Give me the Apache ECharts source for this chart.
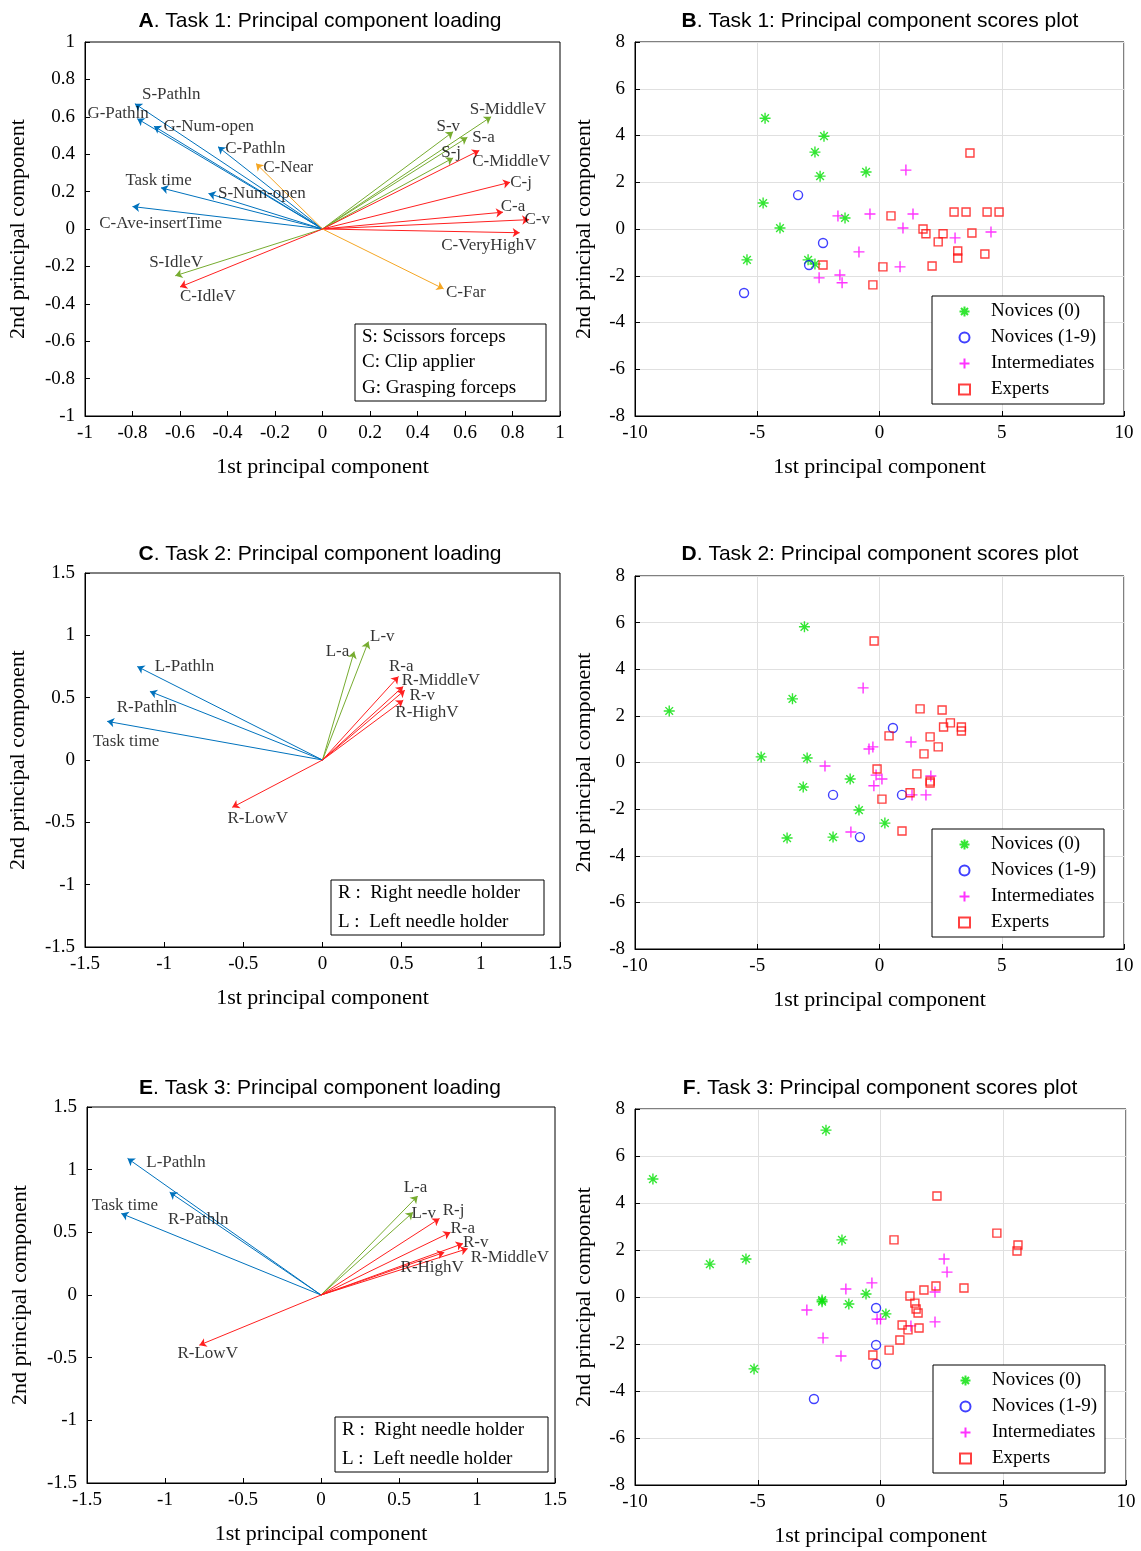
<!DOCTYPE html>
<html>
<head>
<meta charset="utf-8">
<script src="https://cdn.jsdelivr.net/npm/echarts@6/dist/echarts.min.js"></script>
<style>html,body{margin:0;padding:0;background:#fff}#main{width:1141px;height:1551px}</style>
</head>
<body>
<div id="main"></div>
<script>
// loading arrows: name, tip x, tip y, colour group, label x, label y
var aNames = ['S-Pathln','G-Pathln','G-Num-open','C-Pathln','C-Near','Task time','S-Num-open','C-Ave-insertTime','S-IdleV','C-IdleV','C-Far','S-MiddleV','S-v','S-a','S-j','C-MiddleV','C-j','C-a','C-v','C-VeryHighV'];
var aX = [-0.79,-0.78,-0.71,-0.44,-0.28,-0.68,-0.48,-0.80,-0.62,-0.60,0.51,0.71,0.55,0.61,0.55,0.66,0.79,0.76,0.87,0.83];
var aY = [0.67,0.59,0.55,0.44,0.35,0.22,0.19,0.12,-0.25,-0.31,-0.32,0.60,0.52,0.49,0.38,0.42,0.25,0.09,0.05,-0.02];
var aGrp = ['b','b','b','b','o','b','b','b','g','r','o','g','g','g','g','r','r','r','r','r'];
var aLabX = [-0.76,-0.99,-0.67,-0.41,-0.25,-0.83,-0.44,-0.94,-0.73,-0.60,0.52,0.62,0.48,0.63,0.50,0.63,0.79,0.75,0.85,0.50];
var aLabY = [0.72,0.62,0.55,0.43,0.33,0.26,0.19,0.03,-0.18,-0.36,-0.34,0.64,0.55,0.49,0.41,0.36,0.25,0.12,0.05,-0.09];

var cNames = ['L-Pathln','R-Pathln','Task time','L-a','L-v','R-a','R-MiddleV','R-v','R-HighV','R-LowV'];
var cX = [-1.17,-1.09,-1.36,0.20,0.29,0.48,0.51,0.52,0.51,-0.57];
var cY = [0.75,0.55,0.31,0.87,0.95,0.67,0.59,0.56,0.48,-0.38];
var cGrp = ['b','b','b','g','g','r','r','r','r','r'];
var cLabX = [-1.06,-1.30,-1.45,0.02,0.30,0.42,0.50,0.55,0.46,-0.60];
var cLabY = [0.75,0.42,0.15,0.87,0.99,0.75,0.64,0.52,0.38,-0.47];

var eNames = ['L-Pathln','R-Pathln','Task time','L-a','L-v','R-j','R-a','R-v','R-MiddleV','R-HighV','R-LowV'];
var eX = [-1.24,-0.97,-1.28,0.62,0.59,0.76,0.83,0.91,0.94,0.79,-0.78];
var eY = [1.09,0.82,0.65,0.79,0.66,0.61,0.50,0.41,0.37,0.34,-0.40];
var eGrp = ['b','b','b','g','g','r','r','r','r','r','r'];
var eLabX = [-1.12,-0.98,-1.47,0.53,0.58,0.78,0.83,0.91,0.96,0.51,-0.92];
var eLabY = [1.06,0.60,0.71,0.86,0.65,0.67,0.53,0.42,0.30,0.22,-0.47];

// scores
var groupNames = ['Novices (0)','Novices (1-9)','Intermediates','Experts'];
var bNov0 = [[-4.68,4.74],[-2.27,3.97],[-2.64,3.29],[-2.43,2.26],[-0.55,2.44],[-4.76,1.11],[-4.07,0.04],[-1.41,0.47],[-5.42,-1.32],[-2.92,-1.32],[-2.64,-1.5]];
var bNov19 = [[-3.33,1.45],[-2.31,-0.6],[-2.88,-1.54],[-5.54,-2.74]];
var bInter = [[1.08,2.52],[-1.7,0.56],[-0.39,0.64],[1.37,0.64],[0.96,0.04],[-0.84,-0.98],[-2.47,-2.09],[-1.62,-1.97],[-1.53,-2.3],[0.84,-1.62],[3.09,-0.38],[4.56,-0.13]];
var bExp = [[3.7,3.25],[0.47,0.56],[-2.31,-1.54],[-0.27,-2.39],[0.14,-1.62],[1.78,0.0],[1.9,-0.2],[2.6,-0.2],[2.4,-0.55],[2.15,-1.58],[3.05,0.73],[3.54,0.73],[4.4,0.73],[4.89,0.73],[3.78,-0.17],[3.2,-0.94],[3.2,-1.24],[4.31,-1.07]];

var dNov0 = [[-3.07,5.82],[-3.56,2.73],[-8.6,2.21],[-4.84,0.24],[-2.96,0.19],[-3.12,-1.05],[-1.2,-0.71],[-0.84,-2.04],[0.22,-2.6],[-3.78,-3.24],[-1.9,-3.2]];
var dNov19 = [[0.55,1.48],[-1.9,-1.39],[0.92,-1.39],[-0.8,-3.2]];
var dInter = [[-0.67,3.2],[-0.43,0.58],[-0.27,0.67],[-2.23,-0.15],[-0.14,-0.54],[0.1,-0.71],[-0.23,-1.0],[1.29,0.88],[2.1,-0.58],[1.33,-1.39],[1.9,-1.39],[-1.17,-2.98]];
var dExp = [[-0.22,5.21],[1.66,2.3],[2.56,2.25],[2.9,1.7],[3.35,1.52],[3.35,1.35],[2.62,1.52],[0.39,1.14],[2.07,1.1],[2.4,0.67],[1.82,0.37],[-0.1,-0.28],[1.53,-0.49],[2.07,-0.8],[2.07,-0.88],[1.25,-1.3],[0.1,-1.57],[0.92,-2.94]];

var fNov0 = [[-2.22,7.1],[-9.27,5.02],[-5.48,1.62],[-6.95,1.4],[-1.57,2.43],[-2.38,-0.13],[-2.38,-0.2],[-1.29,-0.3],[-0.59,0.13],[0.22,-0.72],[-5.15,-3.06]];
var fNov19 = [[-0.18,-0.47],[-0.18,-2.04],[-0.18,-2.85],[-2.71,-4.34]];
var fInter = [[2.59,1.62],[2.71,1.06],[-0.35,0.6],[-1.41,0.34],[-3.0,-0.55],[-0.14,-0.94],[0,-0.94],[2.22,0.21],[2.22,-1.06],[1.24,-1.23],[-2.34,-1.74],[-1.61,-2.51]];
var fExp = [[2.3,4.3],[0.55,2.43],[4.74,2.72],[5.6,2.21],[5.56,1.96],[1.77,0.3],[2.26,0.47],[3.4,0.38],[1.2,0.04],[1.4,-0.26],[1.45,-0.51],[1.53,-0.68],[0.88,-1.19],[1.12,-1.4],[1.57,-1.32],[0.79,-1.83],[0.35,-2.26],[-0.31,-2.47]];

var SERIF = 'Liberation Serif';
var SANS = 'Liberation Sans';
var arrowCol = {b:'#0072BD', g:'#77AC30', r:'#FF2020', o:'#F5A623'};

var grids = [
  {left:85, top:42, width:475, height:374},
  {left:635, top:42, width:489, height:374},
  {left:85, top:573, width:475, height:374},
  {left:635, top:576, width:489, height:373},
  {left:87, top:1107, width:468, height:376},
  {left:635, top:1109, width:491, height:376}
];
grids.forEach(function(g){ g.show = true; g.borderColor = '#000'; g.borderWidth = 1; g.backgroundColor = 'transparent'; });

function fmt(v){ return String(Math.round(v*10)/10); }
function axisX(i, min, max, step, grid){
  return {gridIndex:i, type:'value', min:min, max:max, interval:step,
    name:'1st principal component', nameLocation:'middle', nameGap:40,
    nameTextStyle:{fontFamily:SERIF, fontSize:22, color:'#000'},
    axisLine:{show:true, onZero:false, lineStyle:{color:'#000'}},
    axisTick:{inside:true, length:5, lineStyle:{color:'#000'}},
    axisLabel:{fontFamily:SERIF, fontSize:19, color:'#000', margin:8, formatter:fmt},
    splitLine:{show:grid, lineStyle:{color:'#e0e0e0'}}};
}
function axisY(i, min, max, step, grid, gap){
  return {gridIndex:i, type:'value', min:min, max:max, interval:step,
    name:'2nd principal component', nameLocation:'middle', nameGap:gap, nameRotate:90,
    nameTextStyle:{fontFamily:SERIF, fontSize:22, color:'#000'},
    axisLine:{show:true, onZero:false, lineStyle:{color:'#000'}},
    axisTick:{inside:true, length:5, lineStyle:{color:'#000'}},
    axisLabel:{fontFamily:SERIF, fontSize:19, color:'#000', margin:10, formatter:fmt},
    splitLine:{show:grid, lineStyle:{color:'#e0e0e0'}}};
}

var xAxes = [axisX(0,-1,1,0.2,false), axisX(1,-10,10,5,true), axisX(2,-1.5,1.5,0.5,false),
             axisX(3,-10,10,5,true), axisX(4,-1.5,1.5,0.5,false), axisX(5,-10,10,5,true)];
var yAxes = [axisY(0,-1,1,0.2,false,56), axisY(1,-8,8,2,true,40), axisY(2,-1.5,1.5,0.5,false,56),
             axisY(3,-8,8,2,true,40), axisY(4,-1.5,1.5,0.5,false,56), axisY(5,-8,8,2,true,40)];

var series = [];
function addLoadings(idx, names, xs, ys, grp, lx, ly){
  ['b','g','r','o'].forEach(function(k){
    var d = [];
    for (var i = 0; i < names.length; i++) if (grp[i] === k) d.push({coords:[[0,0],[xs[i],ys[i]]]});
    if (!d.length) return;
    series.push({type:'lines', coordinateSystem:'cartesian2d', xAxisIndex:idx, yAxisIndex:idx,
      symbol:['none','arrow'], symbolSize:7, silent:true,
      lineStyle:{color:arrowCol[k], width:1, opacity:1}, data:d});
  });
  var labs = names.map(function(n,i){ return {name:n, value:[lx[i], ly[i]]}; });
  series.push({type:'scatter', xAxisIndex:idx, yAxisIndex:idx, symbolSize:0, silent:true, data:labs,
    label:{show:true, position:'right', distance:0, formatter:'{b}', fontFamily:SERIF, fontSize:17, color:'#000'}});
}
addLoadings(0, aNames, aX, aY, aGrp, aLabX, aLabY);
addLoadings(2, cNames, cX, cY, cGrp, cLabX, cLabY);
addLoadings(4, eNames, eX, eY, eGrp, eLabX, eLabY);

var star = 'path://M5,0L5,10M0,5L10,5M1.5,1.5L8.5,8.5M1.5,8.5L8.5,1.5';
var plus = 'path://M5,0L5,10M0,5L10,5';
var styles = [
  {symbol:star, size:11, color:'#00E000'},
  {symbol:'circle', size:9, color:'#1010FF'},
  {symbol:plus, size:11, color:'#FF00FF'},
  {symbol:'rect', size:8, color:'#FF1010'}
];
function addScores(idx, sets){
  sets.forEach(function(d, k){
    var s = styles[k];
    series.push({type:'scatter', name:groupNames[k], xAxisIndex:idx, yAxisIndex:idx, data:d,
      symbol:s.symbol, symbolSize:s.size,
      itemStyle:{color:'transparent', borderColor:s.color, borderWidth:1.4}});
  });
}
addScores(1, [bNov0, bNov19, bInter, bExp]);
addScores(3, [dNov0, dNov19, dInter, dExp]);
addScores(5, [fNov0, fNov19, fInter, fExp]);

function legendAt(left, top){
  return {data:groupNames, orient:'vertical', left:left, top:top, itemGap:7, itemWidth:11, itemHeight:10,
    padding:[6,8,5,26], borderColor:'#000', borderWidth:1, backgroundColor:'#fff',
    textStyle:{fontFamily:SERIF, fontSize:19, color:'#000', padding:[0,0,0,16]}, selectedMode:false};
}

function titleText(x, y, letter, rest){
  return {type:'text', x:x, y:y, style:{text:'{b|'+letter+'}'+rest, align:'center', verticalAlign:'middle',
    fontFamily:SANS, fontSize:21, fill:'#000', rich:{b:{fontWeight:'bold', fontFamily:SANS, fontSize:21}}}};
}
function noteBox(x, y, w, h, lines){
  var els = [{type:'rect', shape:{x:x, y:y, width:w, height:h}, style:{fill:'#fff', stroke:'#000', lineWidth:1}, z:10}];
  lines.forEach(function(t, i){
    els.push({type:'text', x:x+7, y:y+13+i*(h-26)/(lines.length-1), z:11,
      style:{text:t, fontFamily:SERIF, fontSize:19, fill:'#000', verticalAlign:'middle'}});
  });
  return els;
}

var graphics = [
  titleText(320, 21, 'A', '. Task 1: Principal component loading'),
  titleText(880, 21, 'B', '. Task 1: Principal component scores plot'),
  titleText(320, 554, 'C', '. Task 2: Principal component loading'),
  titleText(880, 554, 'D', '. Task 2: Principal component scores plot'),
  titleText(320, 1088, 'E', '. Task 3: Principal component loading'),
  titleText(880, 1088, 'F', '. Task 3: Principal component scores plot')
].concat(noteBox(355, 324, 191, 77, ['S: Scissors forceps', 'C: Clip applier', 'G: Grasping forceps']))
 .concat(noteBox(331, 880, 213, 55, ['R :  Right needle holder', 'L :  Left needle holder']))
 .concat(noteBox(335, 1417, 213, 55, ['R :  Right needle holder', 'L :  Left needle holder']));

var chart = echarts.init(document.getElementById('main'));
chart.setOption({
  animation:false,
  backgroundColor:'#fff',
  grid:grids,
  xAxis:xAxes,
  yAxis:yAxes,
  legend:[legendAt(932,296), legendAt(932,829), legendAt(933,1365)],
  graphic:graphics,
  series:series
});
</script>
</body>
</html>
